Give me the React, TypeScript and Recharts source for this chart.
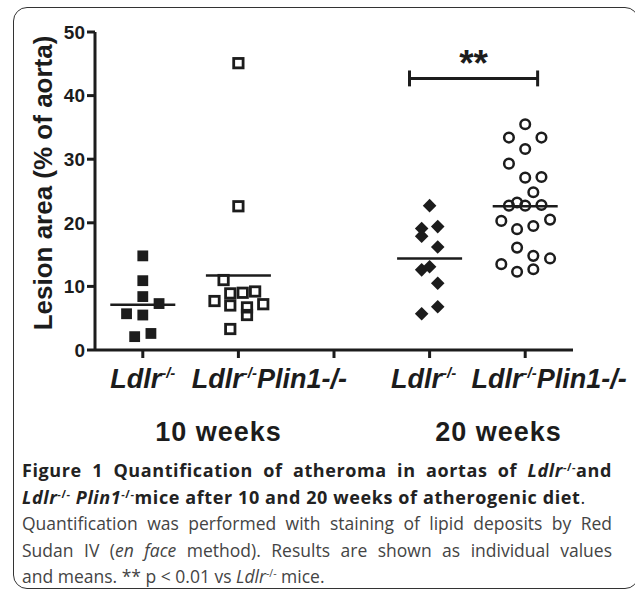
import React from "react";
import {
  ScatterChart,
  Scatter,
  XAxis,
  YAxis,
  ReferenceLine,
} from "recharts";

// x axis: five slots, the middle one is an empty spacer between the two time points
const categories = ["Ldlr-/-", "Ldlr-/-Plin1-/-", "", "Ldlr-/-", "Ldlr-/-Plin1-/-"];
const categoryPos = [0.5, 1.5, 2.5, 3.5, 4.5];
const weekLabels = ["10 weeks", "20 weeks"];
const yTicks = [0, 10, 20, 30, 40, 50];

// lesion area (% of aorta) per mouse, with the horizontal spread used in the dot plot
const ldlr10 = [14.8, 10.9, 8.4, 7.3, 5.7, 5.5, 2.1, 2.6];
const ldlr10Jitter = [0, 0, 0, 0.17, -0.17, 0, -0.085, 0.085];

const plin10 = [45.1, 22.6, 11.0, 7.7, 8.9, 9.0, 9.2, 7.0, 6.7, 5.5, 7.2, 3.3];
const plin10Jitter = [0, 0, -0.155, -0.25, -0.085, 0.045, 0.175, -0.085, 0.09, 0.09, 0.26, -0.085];

const ldlr20 = [22.7, 19.1, 19.4, 17.9, 16.2, 12.6, 13.1, 10.5, 6.8, 5.7];
const ldlr20Jitter = [0, -0.083, 0.085, -0.083, 0.085, -0.083, 0, 0.085, 0.085, -0.083];

const plin20 = [
  35.5, 33.4, 33.4, 31.6, 29.3, 27.1, 27.2, 24.8, 23.2, 22.7, 22.7,
  22.8, 20.3, 20.5, 19.0, 19.5, 16.1, 14.8, 14.4, 13.5, 12.3, 12.7,
];
const plin20Jitter = [
  0, -0.17, 0.17, 0, -0.17, 0, 0.17, 0.085, -0.085, -0.17, 0,
  0.17, -0.25, 0.26, -0.085, 0.085, -0.085, 0.085, 0.26, -0.25, -0.085, 0.085,
];

// group means (horizontal bars)
const means = [7.1, 11.7, 0, 14.4, 22.6];

// ** bracket between the two 20-week groups
const bracketY = 42.7;
const bracketFrom = 3.29;
const bracketTo = 4.63;

const INK = "#1c1c1c";
const ARIAL = "Liberation Sans, Arial, sans-serif";

const toPoints = (vals: number[], jit: number[], pos: number) =>
  vals.map((y, i) => ({ x: pos + jit[i], y }));

const FilledSquare = (p: any) => (
  <rect x={p.cx - 5.4} y={p.cy - 5.4} width={10.8} height={10.8} fill={INK} />
);
const OpenSquare = (p: any) => (
  <rect x={p.cx - 4.7} y={p.cy - 4.7} width={9.4} height={9.4} fill="none" stroke={INK} strokeWidth={2.8} />
);
const Diamond = (p: any) => (
  <polygon
    points={`${p.cx},${p.cy - 6.8} ${p.cx + 6.8},${p.cy} ${p.cx},${p.cy + 6.8} ${p.cx - 6.8},${p.cy}`}
    fill={INK}
  />
);
const OpenCircle = (p: any) => (
  <circle cx={p.cx} cy={p.cy} r={4.8} fill="none" stroke={INK} strokeWidth={2.5} />
);

// label shifts so the pair of names sits like in the original figure
const labelShift = [0, 31, 0, -6, 24];

const CategoryTick = (props: any) => {
  const { x, y, payload, index } = props;
  const idx = categoryPos.indexOf(payload.value);
  const text = categories[idx >= 0 ? idx : index] || "";
  if (!text) return null;
  const cut = text.indexOf("-/-");
  const head = text.slice(0, cut);
  const rest = text.slice(cut + 3);
  return (
    <text
      x={x + labelShift[idx]}
      y={y + 28}
      textAnchor="middle"
      fontFamily={ARIAL}
      fontSize={27}
      fontWeight={700}
      fontStyle="italic"
      fill={INK}
    >
      <tspan>{head}</tspan>
      <tspan dy={-10} fontSize={15}>-/-</tspan>
      <tspan dy={10}>{rest}</tspan>
    </text>
  );
};

const YLabel = () => (
  <text
    x={52}
    y={183}
    transform="rotate(-90 52 183)"
    textAnchor="middle"
    fontFamily={ARIAL}
    fontSize={26}
    fontWeight={700}
    fill={INK}
  >
    Lesion area (% of aorta)
  </text>
);

const sup = (s: string) => (
  <sup style={{ fontSize: "0.6em", verticalAlign: "0.55em", lineHeight: 0 }}>{s}</sup>
);

const lineStyle: React.CSSProperties = {
  textAlign: "justify",
  textAlignLast: "justify",
  whiteSpace: "nowrap",
};

export default function App() {
  const groups = [
    { data: toPoints(ldlr10, ldlr10Jitter, categoryPos[0]), shape: FilledSquare },
    { data: toPoints(plin10, plin10Jitter, categoryPos[1]), shape: OpenSquare },
    { data: toPoints(ldlr20, ldlr20Jitter, categoryPos[3]), shape: Diamond },
    { data: toPoints(plin20, plin20Jitter, categoryPos[4]), shape: OpenCircle },
  ];

  return (
    <div style={{ position: "absolute", left: 0, top: 0, width: 635, height: 591, background: "#fff" }}>
      <div
        style={{
          position: "absolute",
          left: 13,
          top: 7,
          width: 624,
          height: 580,
          border: "1.5px solid #333",
          borderRadius: 14,
        }}
      />
      <div style={{ position: "absolute", left: 0, top: 0 }}>
        <ScatterChart width={635} height={420} margin={{ top: 32, right: 62, left: 0, bottom: 0 }}>
          <XAxis
            type="number"
            dataKey="x"
            domain={[0, 5]}
            ticks={categoryPos}
            interval={0}
            height={70}
            tickSize={8}
            stroke={INK}
            strokeWidth={3}
            tick={<CategoryTick />}
          />
          <YAxis
            type="number"
            dataKey="y"
            domain={[0, 50]}
            ticks={yTicks}
            width={95}
            tickSize={8}
            stroke={INK}
            strokeWidth={3}
            tick={{ fill: INK, fontSize: 19, fontWeight: 700, fontFamily: ARIAL }}
            label={<YLabel />}
          />
          {groups.map((g, i) => (
            <Scatter key={i} data={g.data} shape={g.shape} isAnimationActive={false} />
          ))}
          {means.map((m, i) =>
            i === 2 ? null : (
              <ReferenceLine
                key={"m" + i}
                segment={[
                  { x: categoryPos[i] - 0.34, y: m },
                  { x: categoryPos[i] + 0.34, y: m },
                ]}
                stroke={INK}
                strokeWidth={2.5}
              />
            )
          )}
          <ReferenceLine
            segment={[
              { x: bracketFrom, y: bracketY },
              { x: bracketTo, y: bracketY },
            ]}
            stroke={INK}
            strokeWidth={3}
            label={{ value: "**", position: "top", offset: 2, fill: INK, fontSize: 37, fontWeight: 700, fontFamily: ARIAL }}
          />
          <ReferenceLine
            segment={[
              { x: bracketFrom, y: bracketY - 1.25 },
              { x: bracketFrom, y: bracketY + 1.25 },
            ]}
            stroke={INK}
            strokeWidth={3}
          />
          <ReferenceLine
            segment={[
              { x: bracketTo, y: bracketY - 1.25 },
              { x: bracketTo, y: bracketY + 1.25 },
            ]}
            stroke={INK}
            strokeWidth={3}
          />
        </ScatterChart>
      </div>
      {weekLabels.map((w, i) => (
        <div
          key={w}
          style={{
            position: "absolute",
            left: [218.5, 498.5][i] - 90,
            width: 180,
            top: 417,
            textAlign: "center",
            fontFamily: ARIAL,
            fontWeight: 700,
            fontSize: 27,
            lineHeight: "31px",
            letterSpacing: 1,
            color: INK,
          }}
        >
          {w}
        </div>
      ))}
      <div
        style={{
          position: "absolute",
          left: 22,
          top: 457,
          width: 590,
          fontFamily: "'Open Sans', sans-serif",
          fontSize: 17.5,
          lineHeight: "26.5px",
          color: "#444",
        }}
      >
        <div style={{ ...lineStyle, fontWeight: 700, fontSize: 18, letterSpacing: 0.6, color: "#222" }}>
          Figure 1 Quantification of atheroma in aortas of <i>Ldlr</i>
          {sup("-/-")}and
        </div>
        <div style={{ fontWeight: 700, fontSize: 18, letterSpacing: 0.6, color: "#222", whiteSpace: "nowrap" }}>
          <i>Ldlr</i>
          {sup("-/-")} <i>Plin1</i>
          {sup("-/-")}mice after 10 and 20 weeks of atherogenic diet<span style={{ fontWeight: 400 }}>.</span>
        </div>
        <div style={lineStyle}>Quantification was performed with staining of lipid deposits by Red</div>
        <div style={lineStyle}>
          Sudan IV (<i>en face</i> method). Results are shown as individual values
        </div>
        <div style={{ whiteSpace: "nowrap" }}>
          and means. ** p &lt; 0.01 vs <i>Ldlr</i>
          {sup("-/-")} mice.
        </div>
      </div>
    </div>
  );
}
